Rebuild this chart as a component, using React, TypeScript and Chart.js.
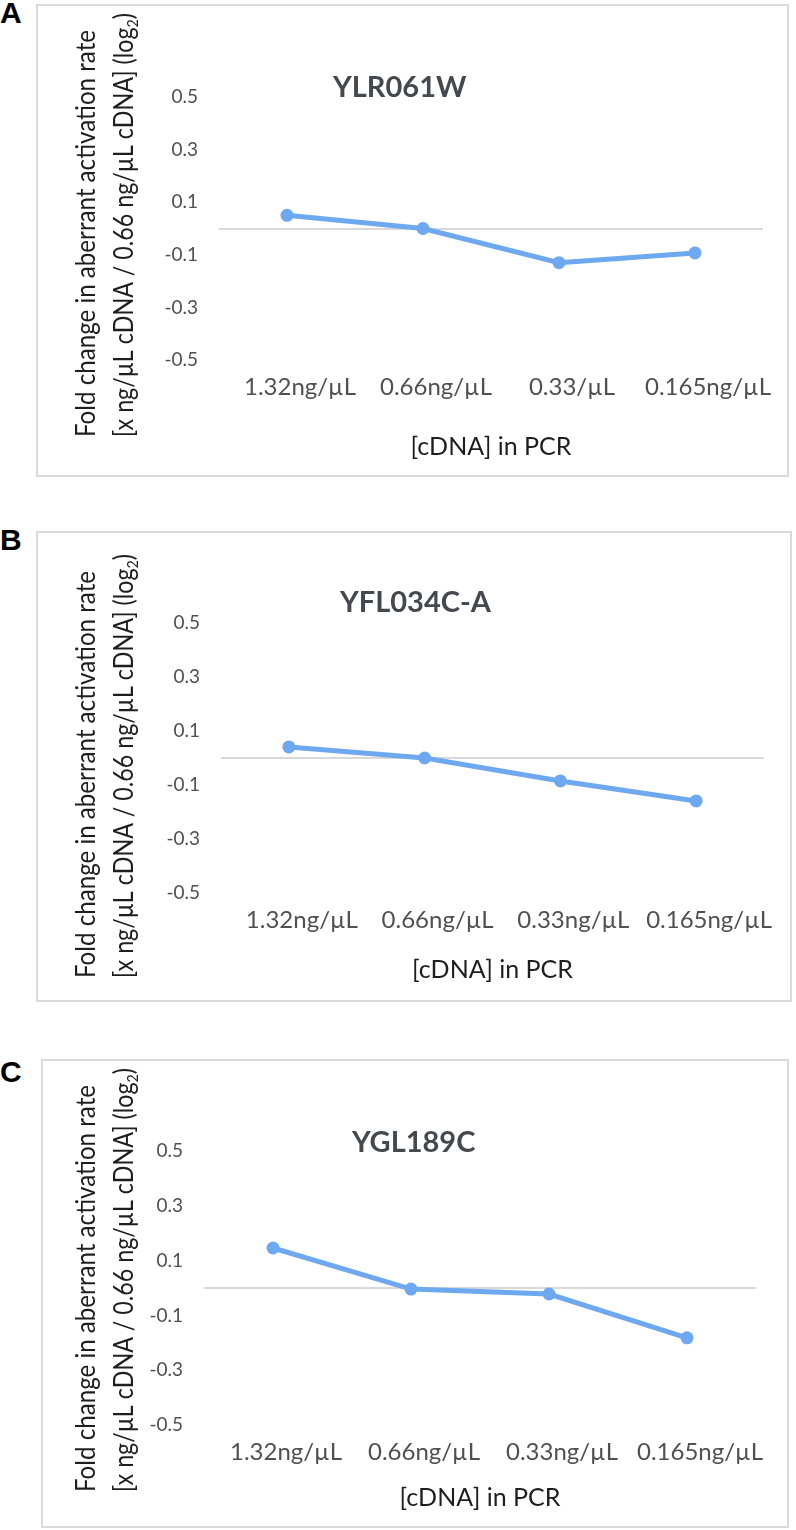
import React, { useEffect, useRef } from 'react';
import { Chart, registerables } from 'chart.js';

Chart.register(...registerables);

// ---------- data ----------
const categoriesA = ['1.32ng/µL', '0.66ng/µL', '0.33/µL', '0.165ng/µL'];
const categoriesB = ['1.32ng/µL', '0.66ng/µL', '0.33ng/µL', '0.165ng/µL'];
const categoriesC = ['1.32ng/µL', '0.66ng/µL', '0.33ng/µL', '0.165ng/µL'];

const valuesA = [0.05, 0.0, -0.13, -0.093];
const valuesB = [0.041, 0.0, -0.085, -0.159];
const valuesC = [0.146, -0.004, -0.022, -0.182];

const yTickValues = [-0.5, -0.3, -0.1, 0.1, 0.3, 0.5];
const yMin = -0.5;
const yMax = 0.5;

const titleA = 'YLR061W';
const titleB = 'YFL034C-A';
const titleC = 'YGL189C';
const panelLetters = ['A', 'B', 'C'];

const xAxisTitle = '[cDNA] in PCR';
const yTitleLine1 = 'Fold change in aberrant activation rate';
const yTitleLine2Main = '[x ng/µL cDNA / 0.66 ng/µL cDNA] (log';
const yTitleLine2Sub = '2';
const yTitleLine2End = ')';

// ---------- styles ----------
const FONT = 'Lato, "Open Sans", sans-serif';
const LINE_COLOR = '#6ea8f1';
const TICK_COLOR = '#505050';
const AXIS_TITLE_COLOR = '#1e1e1e';
const TITLE_COLOR = '#44494f';
const ZERO_COLOR = '#d9d9d9';
const BOX_COLOR = '#dadada';

type Layout = {
  left: number; top: number; right: number; bottom: number;
  yAxisWidth: number; xAxisHeight: number; padRight: number; padTop: number; padBottom: number;
  titleX: number; titleBaseline: number;
  yTitleX: number[]; yTitleStart: number;
  letterTop: number;
};

const layouts: Layout[] = [
  { left: 36, top: 4, right: 789, bottom: 477, yAxisWidth: 183, xAxisHeight: 102, padRight: 26, padTop: 93, padBottom: 15,
    titleX: 297, titleBaseline: 93.4, yTitleX: [51, 89], yTitleStart: 433, letterTop: -2 },
  { left: 36, top: 531, right: 792, bottom: 1002, yAxisWidth: 185, xAxisHeight: 92, padRight: 28, padTop: 92, padBottom: 17,
    titleX: 304, titleBaseline: 81.4, yTitleX: [51, 89], yTitleStart: 447, letterTop: 525 },
  { left: 41, top: 1059, right: 789, bottom: 1528, yAxisWidth: 163, xAxisHeight: 88, padRight: 33, padTop: 92, padBottom: 15,
    titleX: 311, titleBaseline: 93.4, yTitleX: [46, 84], yTitleStart: 433, letterTop: 1057 },
];

const Y_TITLE_LENGTHS = [407, 424];

const overlayPlugin = {
  id: 'overlay',
  afterDraw(chart: any, _args: any, o: any) {
    const ctx = chart.ctx as CanvasRenderingContext2D;
    ctx.save();
    ctx.fillStyle = TITLE_COLOR;
    ctx.font = `bold 29px ${FONT}`;
    ctx.textAlign = 'left';
    ctx.textBaseline = 'alphabetic';
    ctx.fillText(o.title, o.titleX, o.titleBaseline);

    const size = 26;
    const mainFont = `${size}px ${FONT}`;
    const subFont = `${Math.round(size * 0.62)}px ${FONT}`;
    const lines = [
      [{ text: yTitleLine1, sub: false }],
      [
        { text: yTitleLine2Main, sub: false },
        { text: yTitleLine2Sub, sub: true },
        { text: yTitleLine2End, sub: false },
      ],
    ];
    ctx.fillStyle = AXIS_TITLE_COLOR;
    lines.forEach((segs, i) => {
      let total = 0;
      segs.forEach((seg) => {
        ctx.font = seg.sub ? subFont : mainFont;
        total += ctx.measureText(seg.text).width;
      });
      const k = Math.min(1.1, Y_TITLE_LENGTHS[i] / total);
      ctx.save();
      ctx.translate(o.yTitleX[i], o.yTitleStart);
      ctx.rotate(-Math.PI / 2);
      ctx.scale(k, 1);
      ctx.textBaseline = 'middle';
      ctx.textAlign = 'left';
      let x = 0;
      segs.forEach((seg) => {
        ctx.font = seg.sub ? subFont : mainFont;
        ctx.fillText(seg.text, x, seg.sub ? size * 0.3 : 0);
        x += ctx.measureText(seg.text).width;
      });
      ctx.restore();
    });
    ctx.restore();
  },
};

type PanelProps = { labels: string[]; values: number[]; title: string; layout: Layout; letter: string };

function Panel({ labels, values, title, layout, letter }: PanelProps) {
  const ref = useRef<HTMLCanvasElement | null>(null);
  const w = layout.right - layout.left;
  const h = layout.bottom - layout.top;

  useEffect(() => {
    if (!ref.current) return;
    const chart = new Chart(ref.current, {
      type: 'line',
      data: {
        labels,
        datasets: [
          {
            data: values,
            borderColor: LINE_COLOR,
            backgroundColor: LINE_COLOR,
            pointBackgroundColor: LINE_COLOR,
            pointBorderColor: LINE_COLOR,
            borderWidth: 5,
            pointRadius: 6.5,
            pointBorderWidth: 0,
            tension: 0,
            fill: false,
          },
        ],
      },
      options: {
        responsive: false,
        animation: false,
        devicePixelRatio: 1,
        layout: { padding: { left: 0, right: layout.padRight, top: layout.padTop, bottom: layout.padBottom } },
        plugins: {
          legend: { display: false },
          tooltip: { enabled: false },
          title: { display: false },
          // @ts-ignore
          overlay: {
            title,
            titleX: layout.titleX,
            titleBaseline: layout.titleBaseline,
            yTitleX: layout.yTitleX,
            yTitleStart: layout.yTitleStart,
          },
        },
        scales: {
          x: {
            type: 'category',
            offset: true,
            grid: { display: false, drawTicks: false },
            border: { display: false },
            ticks: {
              color: TICK_COLOR,
              font: { family: FONT, size: 24 },
              padding: 13,
              maxRotation: 0,
              minRotation: 0,
              autoSkip: false,
              labelOffset: 13,
            },
            title: {
              display: true,
              text: xAxisTitle,
              color: AXIS_TITLE_COLOR,
              font: { family: FONT, size: 25 },
              padding: { top: 0, bottom: 0 },
            },
            afterFit: (s: any) => {
              s.height = layout.xAxisHeight;
            },
          },
          y: {
            min: yMin,
            max: yMax,
            afterBuildTicks: (s: any) => {
              s.ticks = [...yTickValues, 0].sort((a, b) => a - b).map((v) => ({ value: v }));
            },
            grid: {
              drawTicks: false,
              lineWidth: 2,
              color: (c: any) => (c.tick && c.tick.value === 0 ? ZERO_COLOR : 'rgba(0,0,0,0)'),
            },
            border: { display: false },
            ticks: {
              color: TICK_COLOR,
              font: { family: FONT, size: 19 },
              padding: 21,
              autoSkip: false,
              callback: (v: any) => (Number(v) === 0 ? '' : String(v)),
            },
            afterFit: (s: any) => {
              s.width = layout.yAxisWidth;
            },
          },
        },
      },
      plugins: [overlayPlugin as any],
    });
    return () => chart.destroy();
  }, [labels, values, title, layout]);

  return (
    <>
      <div
        style={{
          position: 'absolute',
          left: layout.left,
          top: layout.top,
          width: w,
          height: h,
          border: `2px solid ${BOX_COLOR}`,
          boxSizing: 'border-box',
        }}
      />
      <div
        style={{
          position: 'absolute',
          left: 0,
          top: layout.letterTop,
          font: 'bold 30px "Liberation Sans", Arial, sans-serif',
          lineHeight: '30px',
          color: '#000',
        }}
      >
        {letter}
      </div>
      <canvas
        ref={ref}
        width={w}
        height={h}
        style={{ position: 'absolute', left: layout.left, top: layout.top, width: w, height: h }}
      />
    </>
  );
}

export default function App() {
  return (
    <div
      style={{
        position: 'absolute',
        left: 0,
        top: 0,
        width: 796,
        height: 1530,
        background: '#fff',
        overflow: 'hidden',
      }}
    >
      <Panel labels={categoriesA} values={valuesA} title={titleA} layout={layouts[0]} letter={panelLetters[0]} />
      <Panel labels={categoriesB} values={valuesB} title={titleB} layout={layouts[1]} letter={panelLetters[1]} />
      <Panel labels={categoriesC} values={valuesC} title={titleC} layout={layouts[2]} letter={panelLetters[2]} />
    </div>
  );
}
